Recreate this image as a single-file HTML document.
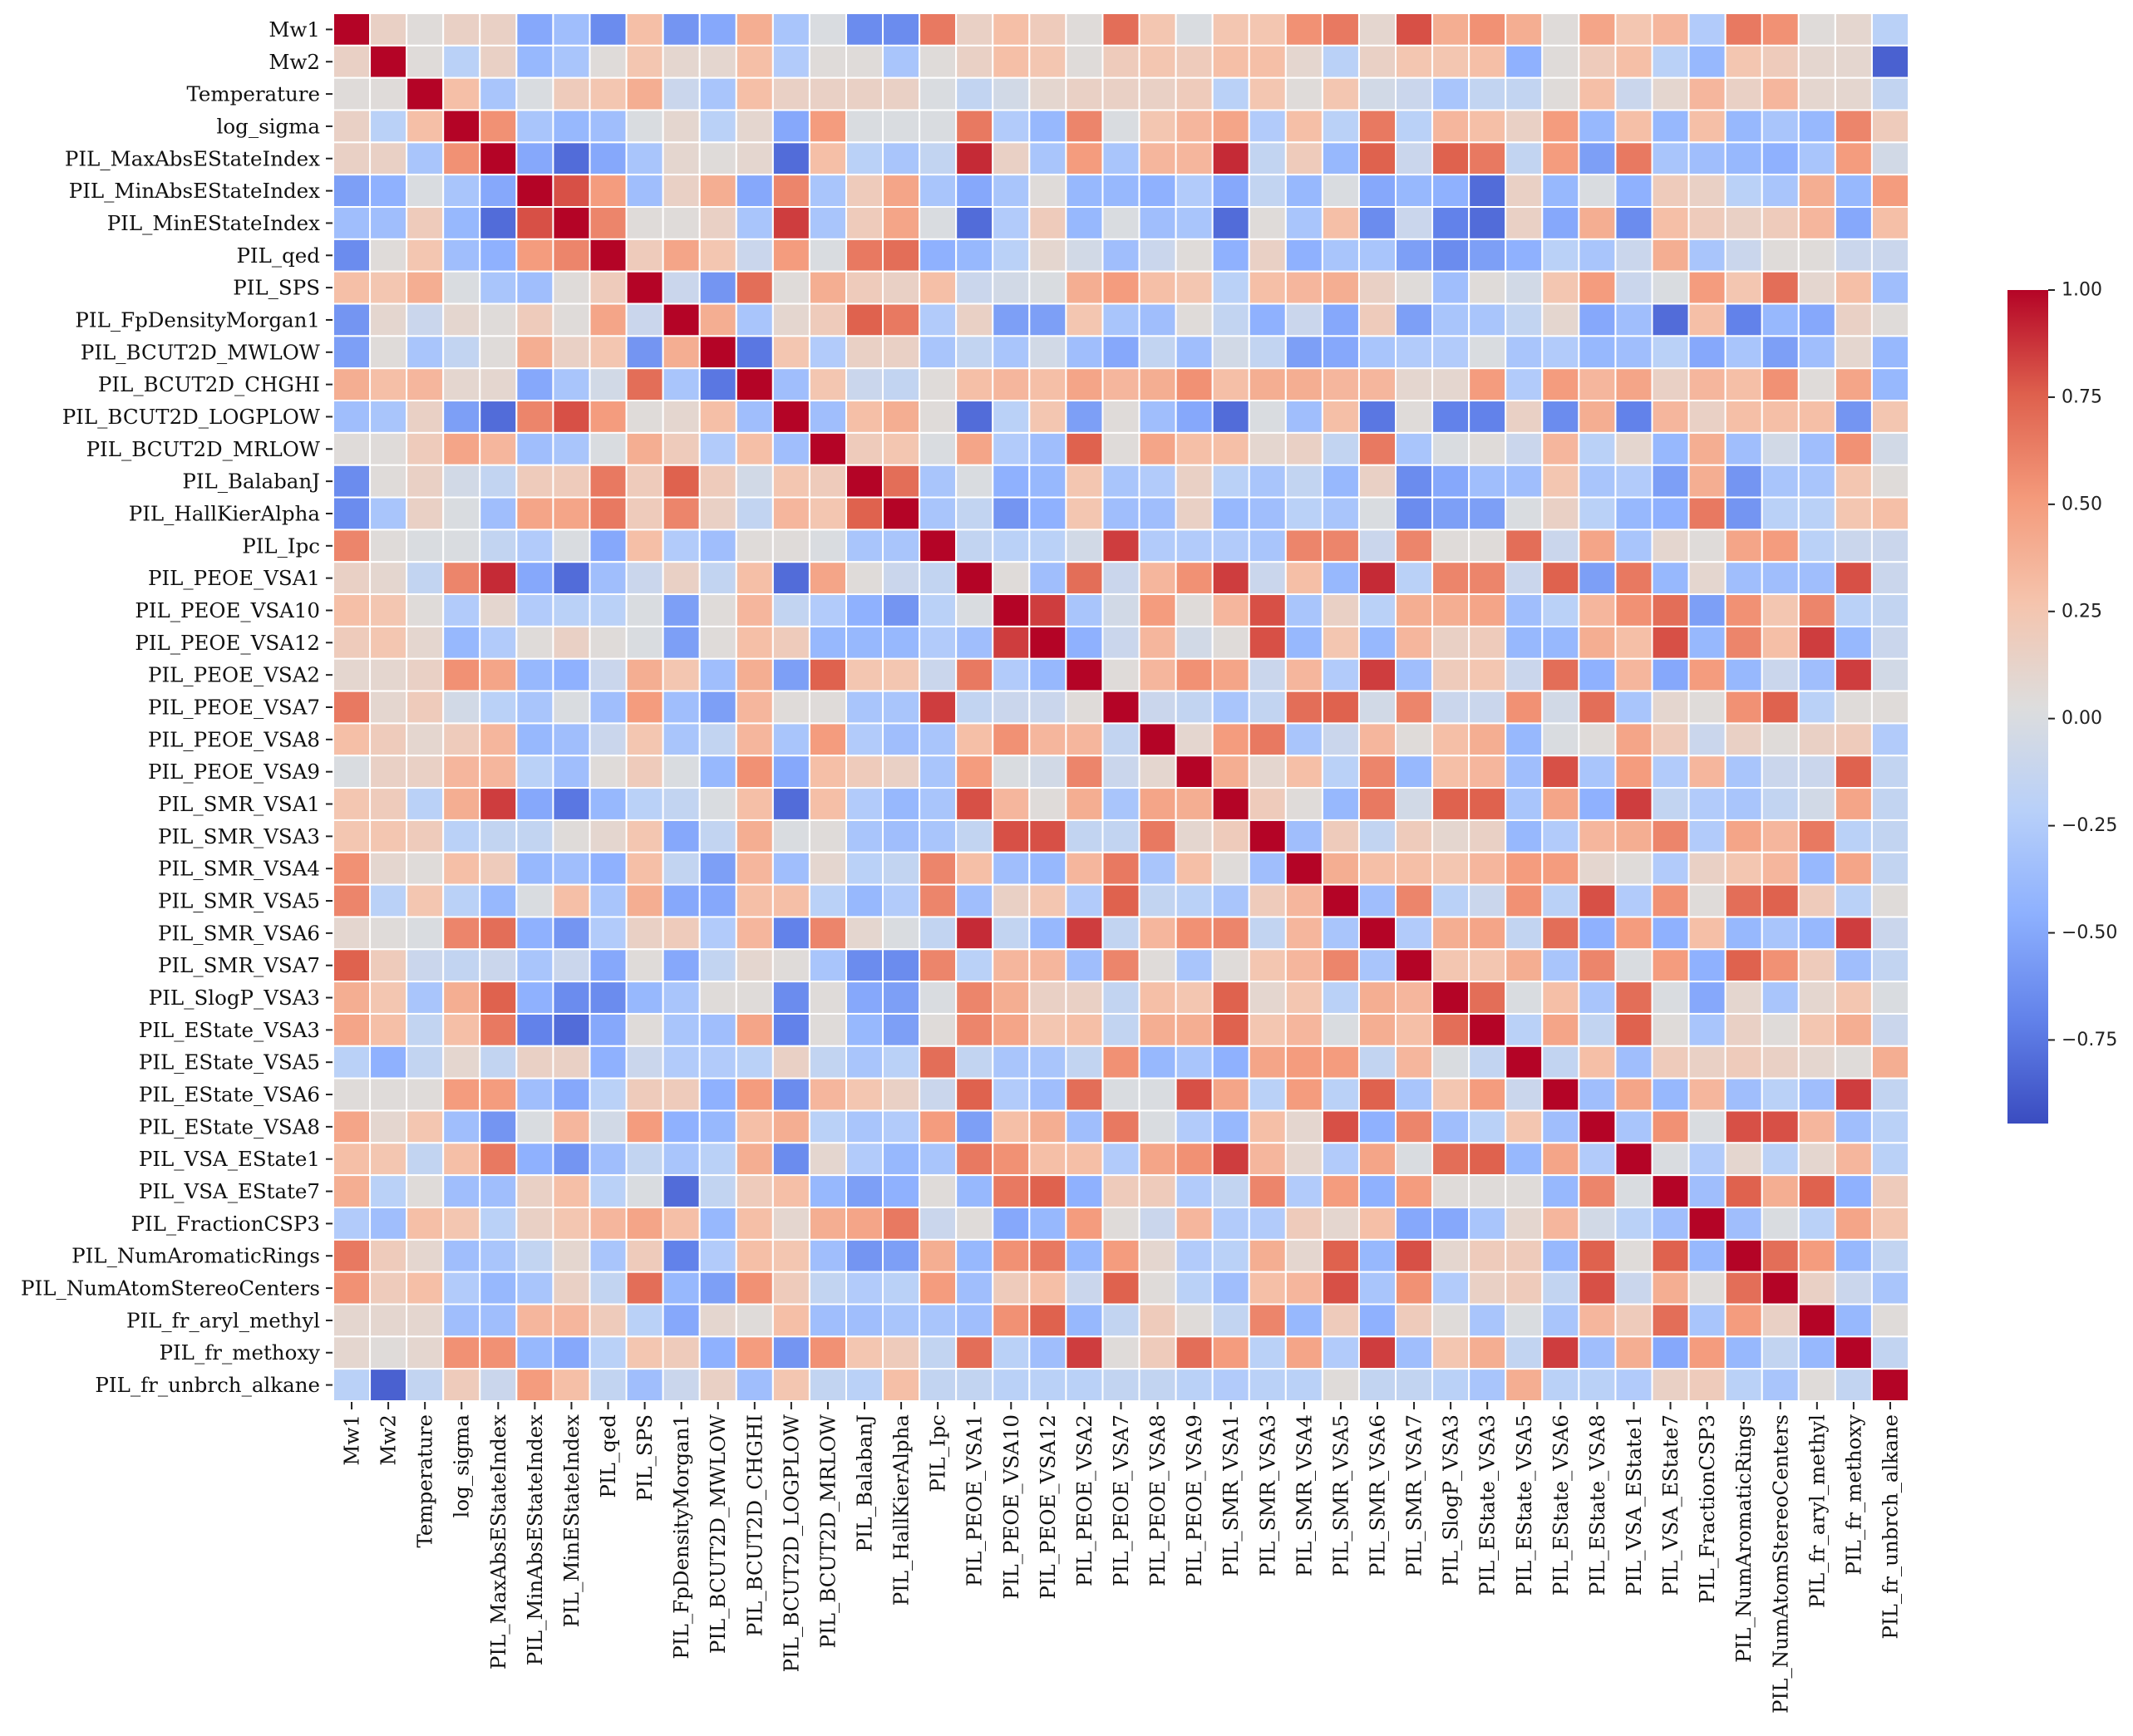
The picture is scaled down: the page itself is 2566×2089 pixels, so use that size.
<!DOCTYPE html>
<html><head><meta charset="utf-8">
<style>
html,body{margin:0;padding:0;background:#fff;}
svg{display:block;}
.lbl{font-family:"DejaVu Serif","Liberation Serif",serif;font-size:24.5px;fill:#111;}
.cbl{font-family:"DejaVu Sans","Liberation Sans",sans-serif;font-size:22px;fill:#222;}
</style></head>
<body>
<svg id="chart" width="2566" height="2089" viewBox="0 0 2566 2089" xmlns="http://www.w3.org/2000/svg">
<defs>
<linearGradient id="cbgrad" x1="0" y1="1" x2="0" y2="0">
<stop offset="0" stop-color="rgb(58,76,192)"/>
<stop offset="0.125" stop-color="rgb(98,130,234)"/>
<stop offset="0.25" stop-color="rgb(141,176,254)"/>
<stop offset="0.375" stop-color="rgb(184,208,249)"/>
<stop offset="0.5" stop-color="rgb(221,221,221)"/>
<stop offset="0.625" stop-color="rgb(245,196,173)"/>
<stop offset="0.75" stop-color="rgb(244,154,123)"/>
<stop offset="0.875" stop-color="rgb(222,96,77)"/>
<stop offset="1" stop-color="rgb(180,4,38)"/>
</linearGradient>
</defs>
<g id="cells"></g>
<g id="ylabels"></g>
<g id="xlabels"></g>
<g id="colorbar"></g>
</svg>
<script>
const variables = ["Mw1","Mw2","Temperature","log_sigma","PIL_MaxAbsEStateIndex","PIL_MinAbsEStateIndex","PIL_MinEStateIndex","PIL_qed","PIL_SPS","PIL_FpDensityMorgan1","PIL_BCUT2D_MWLOW","PIL_BCUT2D_CHGHI","PIL_BCUT2D_LOGPLOW","PIL_BCUT2D_MRLOW","PIL_BalabanJ","PIL_HallKierAlpha","PIL_Ipc","PIL_PEOE_VSA1","PIL_PEOE_VSA10","PIL_PEOE_VSA12","PIL_PEOE_VSA2","PIL_PEOE_VSA7","PIL_PEOE_VSA8","PIL_PEOE_VSA9","PIL_SMR_VSA1","PIL_SMR_VSA3","PIL_SMR_VSA4","PIL_SMR_VSA5","PIL_SMR_VSA6","PIL_SMR_VSA7","PIL_SlogP_VSA3","PIL_EState_VSA3","PIL_EState_VSA5","PIL_EState_VSA6","PIL_EState_VSA8","PIL_VSA_EState1","PIL_VSA_EState7","PIL_FractionCSP3","PIL_NumAromaticRings","PIL_NumAtomStereoCenters","PIL_fr_aryl_methyl","PIL_fr_methoxy","PIL_fr_unbrch_alkane"];
const colorbarTicks = [1.00,0.75,0.50,0.25,0.00,-0.25,-0.50,-0.75];
const colorbarTickLabels = ["1.00","0.75","0.50","0.25","0.00","\u22120.25","\u22120.50","\u22120.75"];
const valueMin = -0.945;
const valueMax = 1.0;
const corrRows = [
"1 0.15 0.05 0.15 0.15 -0.5 -0.35 -0.65 0.3 -0.6 -0.5 0.4 -0.3 0 -0.65 -0.65 0.65 0.15 0.3 0.2 0.05 0.7 0.25 0 0.25 0.25 0.55 0.65 0.1 0.8 0.4 0.55 0.4 0.05 0.45 0.25 0.35 -0.25 0.65 0.55 0.05 0.1 -0.2",
"0.15 1 0.05 -0.2 0.15 -0.4 -0.3 0.05 0.25 0.1 0.1 0.3 -0.25 0.05 0.05 -0.3 0.05 0.15 0.3 0.25 0.05 0.2 0.25 0.2 0.3 0.3 0.1 -0.2 0.15 0.25 0.25 0.3 -0.45 0.05 0.2 0.3 -0.2 -0.4 0.25 0.2 0.1 0.1 -0.85",
"0.05 0.05 1 0.3 -0.3 0 0.2 0.25 0.4 -0.1 -0.3 0.3 0.15 0.15 0.15 0.15 0 -0.15 -0.05 0.1 0.15 0.15 0.15 0.2 -0.2 0.25 0.05 0.25 -0.05 -0.1 -0.3 -0.15 -0.15 0.05 0.3 -0.1 0.1 0.35 0.15 0.35 0.1 0.1 -0.15",
"0.15 -0.2 0.3 1 0.55 -0.3 -0.4 -0.35 0 0.1 -0.2 0.1 -0.5 0.5 0 0 0 0.65 -0.25 -0.4 0.6 0 0.25 0.35 0.45 -0.25 0.3 -0.2 0.65 -0.2 0.35 0.3 0.15 0.5 -0.4 0.3 -0.4 0.3 -0.4 -0.3 -0.4 0.6 0.2",
"0.15 0.15 -0.3 0.55 1 -0.5 -0.8 -0.5 -0.3 0.1 0.05 0.1 -0.8 0.3 -0.2 -0.3 -0.15 0.9 0.15 -0.3 0.5 -0.3 0.35 0.35 0.9 -0.15 0.2 -0.4 0.75 -0.1 0.75 0.65 -0.15 0.5 -0.55 0.65 -0.3 -0.35 -0.4 -0.45 -0.3 0.5 -0.05",
"-0.55 -0.45 0 -0.3 -0.5 1 0.8 0.5 -0.35 0.15 0.4 -0.5 0.6 -0.3 0.2 0.45 -0.3 -0.5 -0.3 0.05 -0.4 -0.4 -0.45 -0.25 -0.5 -0.15 -0.4 0 -0.5 -0.4 -0.45 -0.8 0.15 -0.4 0 -0.45 0.2 0.15 -0.2 -0.3 0.4 -0.4 0.5",
"-0.35 -0.35 0.2 -0.4 -0.8 0.8 1 0.6 0.05 0.05 0.15 -0.3 0.85 -0.3 0.2 0.45 0 -0.8 -0.25 0.2 -0.4 0 -0.35 -0.3 -0.8 0.05 -0.3 0.3 -0.65 -0.1 -0.7 -0.8 0.15 -0.5 0.4 -0.65 0.3 0.2 0.15 0.2 0.35 -0.5 0.3",
"-0.65 0.05 0.25 -0.35 -0.45 0.5 0.6 1 0.2 0.45 0.25 -0.1 0.5 0 0.65 0.7 -0.45 -0.4 -0.2 0.1 -0.05 -0.35 -0.1 0.05 -0.45 0.15 -0.45 -0.3 -0.3 -0.55 -0.65 -0.55 -0.45 -0.2 -0.3 -0.1 0.4 -0.3 -0.1 0.05 0.05 -0.1 -0.1",
"0.3 0.25 0.4 0 -0.3 -0.35 0.05 0.2 1 -0.1 -0.6 0.7 0.05 0.4 0.2 0.15 0.3 -0.1 -0.05 0 0.4 0.5 0.3 0.25 -0.2 0.3 0.35 0.4 0.15 0.05 -0.35 0.05 -0.05 0.25 0.5 -0.1 0 0.5 0.25 0.7 0.1 0.3 -0.35",
"-0.6 0.1 -0.1 0.1 0.05 0.2 0.05 0.45 -0.1 1 0.4 -0.3 0.1 0.2 0.75 0.65 -0.25 0.15 -0.55 -0.55 0.25 -0.3 -0.35 0.05 -0.15 -0.45 -0.1 -0.5 0.2 -0.55 -0.3 -0.3 -0.15 0.1 -0.5 -0.35 -0.8 0.3 -0.7 -0.4 -0.5 0.15 0.05",
"-0.55 0.05 -0.3 -0.15 0.05 0.4 0.15 0.25 -0.6 0.4 1 -0.75 0.25 -0.25 0.15 0.15 -0.3 -0.15 -0.3 -0.05 -0.35 -0.5 -0.15 -0.35 -0.05 -0.15 -0.55 -0.5 -0.3 -0.25 -0.25 0 -0.3 -0.25 -0.4 -0.35 -0.2 -0.5 -0.3 -0.55 -0.35 0.1 -0.4",
"0.4 0.3 0.35 0.1 0.1 -0.5 -0.3 -0.05 0.7 -0.3 -0.75 1 -0.35 0.25 -0.1 -0.15 0.05 0.3 0.35 0.3 0.45 0.35 0.4 0.55 0.3 0.4 0.4 0.35 0.35 0.1 0.1 0.5 -0.25 0.5 0.35 0.45 0.15 0.35 0.3 0.55 0.05 0.45 -0.4",
"-0.35 -0.3 0.15 -0.55 -0.8 0.6 0.8 0.5 0.05 0.1 0.3 -0.35 1 -0.35 0.3 0.4 0.05 -0.8 -0.2 0.25 -0.55 0.05 -0.35 -0.5 -0.8 0 -0.35 0.3 -0.75 0.05 -0.7 -0.7 0.15 -0.65 0.4 -0.7 0.35 0.15 0.3 0.3 0.3 -0.6 0.25",
"0.05 0.05 0.2 0.45 0.35 -0.35 -0.3 0 0.4 0.2 -0.25 0.3 -0.35 1 0.2 0.25 0 0.45 -0.25 -0.35 0.75 0.05 0.45 0.3 0.3 0.1 0.15 -0.15 0.65 -0.3 0 0.05 -0.1 0.35 -0.2 0.1 -0.4 0.4 -0.35 -0.05 -0.35 0.55 -0.05",
"-0.65 0.05 0.15 -0.05 -0.15 0.2 0.2 0.65 0.2 0.75 0.2 -0.05 0.25 0.2 1 0.7 -0.3 0 -0.45 -0.4 0.25 -0.3 -0.25 0.15 -0.2 -0.3 -0.15 -0.4 0.15 -0.65 -0.5 -0.35 -0.35 0.25 -0.3 -0.25 -0.55 0.4 -0.6 -0.3 -0.3 0.25 0.05",
"-0.65 -0.3 0.15 0 -0.35 0.45 0.45 0.65 0.2 0.6 0.15 -0.15 0.35 0.25 0.75 1 -0.3 -0.15 -0.6 -0.45 0.25 -0.35 -0.35 0.15 -0.4 -0.35 -0.2 -0.3 0 -0.65 -0.55 -0.55 0 0.15 -0.2 -0.4 -0.45 0.65 -0.6 -0.2 -0.2 0.25 0.3",
"0.6 0.05 0 0 -0.15 -0.25 0 -0.5 0.3 -0.25 -0.35 0.05 0.05 0 -0.3 -0.3 1 -0.15 -0.2 -0.2 -0.05 0.85 -0.25 -0.25 -0.25 -0.3 0.6 0.6 -0.1 0.6 0.05 0.05 0.7 -0.1 0.45 -0.3 0.1 0.05 0.45 0.5 -0.2 -0.1 -0.1",
"0.15 0.1 -0.15 0.6 0.9 -0.5 -0.8 -0.35 -0.1 0.15 -0.15 0.3 -0.8 0.45 0.05 -0.1 -0.15 1 0.05 -0.35 0.7 -0.1 0.35 0.55 0.85 -0.1 0.3 -0.4 0.9 -0.2 0.6 0.6 -0.1 0.75 -0.55 0.65 -0.4 0.1 -0.35 -0.35 -0.35 0.8 -0.1",
"0.3 0.25 0.05 -0.25 0.1 -0.25 -0.2 -0.2 0 -0.55 0.05 0.35 -0.15 -0.25 -0.45 -0.6 -0.2 0 1 0.85 -0.3 -0.05 0.5 0.05 0.35 0.8 -0.3 0.15 -0.2 0.4 0.4 0.45 -0.35 -0.2 0.35 0.55 0.7 -0.55 0.55 0.25 0.6 -0.2 -0.15",
"0.2 0.25 0.1 -0.4 -0.25 0.05 0.15 0.05 0 -0.55 0.05 0.3 0.2 -0.4 -0.4 -0.4 -0.25 -0.35 0.85 1 -0.45 -0.1 0.35 -0.05 0.05 0.8 -0.4 0.25 -0.4 0.35 0.15 0.2 -0.4 -0.4 0.4 0.3 0.8 -0.4 0.6 0.3 0.85 -0.4 -0.1",
"0.1 0.1 0.15 0.55 0.45 -0.4 -0.45 -0.1 0.4 0.25 -0.35 0.4 -0.55 0.75 0.25 0.25 -0.1 0.65 -0.25 -0.4 1 0.05 0.35 0.55 0.45 -0.1 0.35 -0.25 0.85 -0.35 0.2 0.25 -0.1 0.7 -0.45 0.35 -0.5 0.5 -0.4 -0.1 -0.35 0.85 -0.05",
"0.65 0.1 0.2 -0.05 -0.2 -0.3 0 -0.35 0.5 -0.35 -0.55 0.35 0.05 0.05 -0.3 -0.3 0.85 -0.15 -0.1 -0.1 0.05 1 -0.1 -0.15 -0.3 -0.15 0.7 0.75 -0.05 0.6 -0.1 -0.1 0.55 -0.05 0.7 -0.3 0.1 0.05 0.55 0.75 -0.2 0.05 0.05",
"0.3 0.2 0.1 0.2 0.35 -0.4 -0.35 -0.1 0.25 -0.3 -0.15 0.35 -0.3 0.5 -0.25 -0.35 -0.3 0.3 0.55 0.35 0.35 -0.15 1 0.1 0.5 0.65 -0.3 -0.1 0.35 0.05 0.3 0.4 -0.4 0 0.05 0.45 0.2 -0.1 0.15 0.05 0.15 0.2 -0.25",
"0 0.15 0.15 0.35 0.35 -0.2 -0.35 0.05 0.2 0 -0.4 0.55 -0.5 0.3 0.2 0.15 -0.3 0.5 0 -0.05 0.6 -0.1 0.1 1 0.4 0.1 0.3 -0.2 0.6 -0.4 0.3 0.35 -0.35 0.8 -0.3 0.5 -0.25 0.35 -0.3 -0.1 -0.1 0.75 -0.15",
"0.25 0.2 -0.2 0.4 0.85 -0.5 -0.75 -0.4 -0.2 -0.15 0 0.3 -0.8 0.3 -0.25 -0.4 -0.3 0.8 0.35 0.05 0.4 -0.3 0.45 0.4 1 0.2 0.05 -0.4 0.65 -0.05 0.75 0.75 -0.3 0.45 -0.45 0.85 -0.15 -0.25 -0.3 -0.15 -0.05 0.45 -0.15",
"0.25 0.25 0.2 -0.2 -0.15 -0.15 0.05 0.1 0.25 -0.5 -0.15 0.4 0 0.05 -0.3 -0.35 -0.3 -0.15 0.8 0.8 -0.15 -0.15 0.65 0.1 0.2 1 -0.35 0.2 -0.15 0.2 0.1 0.15 -0.4 -0.25 0.35 0.4 0.6 -0.25 0.45 0.35 0.65 -0.2 -0.15",
"0.55 0.1 0.05 0.3 0.2 -0.4 -0.35 -0.45 0.3 -0.15 -0.55 0.35 -0.35 0.1 -0.2 -0.15 0.6 0.3 -0.35 -0.4 0.35 0.65 -0.3 0.3 0.05 -0.35 1 0.4 0.3 0.3 0.25 0.35 0.5 0.5 0.1 0.05 -0.25 0.15 0.25 0.35 -0.4 0.45 -0.15",
"0.6 -0.2 0.25 -0.2 -0.4 0 0.3 -0.3 0.4 -0.5 -0.5 0.3 0.3 -0.2 -0.4 -0.25 0.6 -0.35 0.15 0.25 -0.25 0.75 -0.15 -0.2 -0.3 0.2 0.35 1 -0.35 0.6 -0.2 -0.1 0.55 -0.2 0.8 -0.25 0.55 0.05 0.7 0.75 0.2 -0.2 0.05",
"0.1 0.05 0 0.6 0.7 -0.45 -0.6 -0.25 0.15 0.2 -0.25 0.35 -0.7 0.6 0.1 0 -0.15 0.9 -0.15 -0.4 0.85 -0.15 0.35 0.55 0.6 -0.15 0.35 -0.3 1 -0.25 0.4 0.45 -0.15 0.7 -0.45 0.5 -0.45 0.3 -0.4 -0.3 -0.4 0.85 -0.1",
"0.75 0.2 -0.1 -0.15 -0.1 -0.3 -0.1 -0.5 0.05 -0.5 -0.15 0.1 0.05 -0.3 -0.65 -0.65 0.6 -0.2 0.35 0.35 -0.35 0.6 0.05 -0.3 0.05 0.25 0.35 0.6 -0.3 1 0.25 0.25 0.4 -0.3 0.6 0 0.5 -0.45 0.75 0.55 0.2 -0.35 -0.15",
"0.4 0.25 -0.3 0.4 0.75 -0.45 -0.65 -0.65 -0.4 -0.3 0.05 0.05 -0.65 0.05 -0.5 -0.55 0 0.6 0.4 0.15 0.15 -0.15 0.3 0.25 0.75 0.1 0.25 -0.2 0.4 0.35 1 0.7 0 0.3 -0.3 0.7 0 -0.5 0.1 -0.3 0.1 0.25 0",
"0.45 0.3 -0.15 0.3 0.65 -0.7 -0.8 -0.5 0.05 -0.3 -0.35 0.45 -0.7 0.05 -0.4 -0.55 0.05 0.6 0.45 0.25 0.3 -0.15 0.4 0.4 0.75 0.25 0.35 0 0.4 0.3 0.7 1 -0.2 0.45 -0.15 0.75 0.05 -0.3 0.15 0.05 0.25 0.4 -0.1",
"-0.2 -0.45 -0.15 0.1 -0.15 0.15 0.15 -0.45 -0.1 -0.25 -0.25 -0.2 0.15 -0.15 -0.3 -0.2 0.7 -0.15 -0.3 -0.3 -0.15 0.55 -0.4 -0.3 -0.45 0.45 0.5 0.5 -0.15 0.35 0 -0.15 1 -0.15 0.3 -0.35 0.2 0.15 0.2 0.15 0.1 0.05 0.4",
"0.05 0.05 0.05 0.5 0.5 -0.35 -0.5 -0.2 0.2 0.2 -0.45 0.5 -0.65 0.35 0.25 0.15 -0.1 0.75 -0.25 -0.35 0.7 0 0 0.8 0.45 -0.2 0.5 -0.2 0.75 -0.3 0.25 0.5 -0.1 1 -0.35 0.45 -0.4 0.35 -0.35 -0.2 -0.35 0.85 -0.15",
"0.45 0.1 0.25 -0.35 -0.6 0 0.35 -0.05 0.5 -0.45 -0.4 0.3 0.4 -0.2 -0.3 -0.25 0.5 -0.55 0.3 0.4 -0.35 0.65 0 -0.25 -0.4 0.3 0.1 0.8 -0.45 0.6 -0.35 -0.2 0.25 -0.35 1 -0.3 0.55 0 0.8 0.8 0.35 -0.35 -0.2",
"0.3 0.25 -0.15 0.3 0.65 -0.45 -0.6 -0.35 -0.15 -0.3 -0.2 0.4 -0.65 0.1 -0.25 -0.4 -0.3 0.65 0.55 0.3 0.3 -0.25 0.45 0.55 0.85 0.35 0.1 -0.25 0.45 0 0.7 0.75 -0.4 0.45 -0.25 1 0 -0.25 0.1 -0.2 0.1 0.35 -0.2",
"0.4 -0.2 0.05 -0.35 -0.35 0.15 0.3 -0.2 0 -0.8 -0.15 0.2 0.3 -0.4 -0.55 -0.45 0.05 -0.4 0.65 0.75 -0.45 0.2 0.2 -0.25 -0.15 0.6 -0.25 0.5 -0.45 0.5 0.05 0.05 0.05 -0.4 0.6 0 1 -0.35 0.75 0.4 0.75 -0.45 0.2",
"-0.25 -0.35 0.3 0.25 -0.2 0.15 0.25 0.35 0.45 0.3 -0.4 0.3 0.1 0.4 0.45 0.65 -0.1 0.05 -0.5 -0.4 0.5 0.05 -0.1 0.35 -0.25 -0.25 0.2 0.1 0.3 -0.5 -0.5 -0.3 0.1 0.35 -0.05 -0.2 -0.35 1 -0.35 0 -0.2 0.45 0.25",
"0.65 0.2 0.1 -0.35 -0.3 -0.15 0.1 -0.3 0.2 -0.7 -0.25 0.3 0.25 -0.35 -0.6 -0.55 0.4 -0.4 0.55 0.65 -0.4 0.5 0.1 -0.25 -0.2 0.4 0.1 0.75 -0.4 0.8 0.1 0.2 0.2 -0.4 0.75 0.05 0.75 -0.4 1 0.7 0.5 -0.4 -0.15",
"0.55 0.2 0.3 -0.25 -0.4 -0.3 0.15 -0.15 0.7 -0.4 -0.55 0.55 0.2 -0.15 -0.25 -0.2 0.5 -0.35 0.2 0.3 -0.1 0.75 0.05 -0.2 -0.35 0.3 0.35 0.8 -0.3 0.55 -0.25 0.15 0.2 -0.15 0.8 -0.1 0.4 0.05 0.7 1 0.15 -0.1 -0.3",
"0.1 0.1 0.1 -0.35 -0.35 0.35 0.35 0.2 -0.2 -0.5 0.1 0.05 0.3 -0.35 -0.35 -0.3 -0.3 -0.35 0.55 0.75 -0.4 -0.15 0.2 0.05 -0.15 0.6 -0.4 0.2 -0.45 0.2 0.05 -0.3 0 -0.3 0.35 0.2 0.7 -0.3 0.5 0.15 1 -0.4 0.05",
"0.1 0.05 0.1 0.55 0.55 -0.4 -0.5 -0.2 0.25 0.2 -0.45 0.5 -0.6 0.55 0.25 0.2 -0.15 0.7 -0.2 -0.35 0.85 0.05 0.2 0.7 0.5 -0.2 0.45 -0.25 0.85 -0.35 0.25 0.4 -0.15 0.85 -0.35 0.4 -0.5 0.5 -0.4 -0.15 -0.4 1 -0.15",
"-0.2 -0.85 -0.15 0.2 -0.1 0.5 0.3 -0.15 -0.35 -0.1 0.15 -0.35 0.25 -0.15 -0.2 0.3 -0.15 -0.15 -0.2 -0.2 -0.2 -0.15 -0.15 -0.2 -0.25 -0.2 -0.2 0.05 -0.15 -0.15 -0.2 -0.3 0.4 -0.2 -0.2 -0.25 0.15 0.2 -0.2 -0.3 0.05 -0.15 1"
];

const NS = "http://www.w3.org/2000/svg";
const X0 = 401, X1 = 2296, Y0 = 16, Y1 = 1686;
const n = variables.length;
const cw = (X1 - X0) / n, chh = (Y1 - Y0) / n;
const xScale = i => X0 + i * cw;
const yScale = i => Y0 + i * chh;
const CB_X = 2415, CB_W = 49, CB_TOP = 349, CB_BOT = 1352;
const cbScale = v => CB_BOT - (v - valueMin) / (valueMax - valueMin) * (CB_BOT - CB_TOP);

const stops = [[58,76,192],[98,130,234],[141,176,254],[184,208,249],[221,221,221],[245,196,173],[244,154,123],[222,96,77],[180,4,38]];
function cmap(v){
  let t = (v - valueMin) / (valueMax - valueMin);
  t = Math.max(0, Math.min(1, t));
  const p = t * (stops.length - 1);
  const i = Math.min(stops.length - 2, Math.floor(p));
  const f = p - i;
  const a = stops[i], b = stops[i+1];
  return "rgb(" + a.map((c,k) => Math.round(c + (b[k]-c)*f)).join(",") + ")";
}
function mk(tag, attrs, parent){
  const e = document.createElementNS(NS, tag);
  for (const k in attrs) e.setAttribute(k, attrs[k]);
  parent.appendChild(e);
  return e;
}

const cells = document.getElementById("cells");
corrRows.forEach((row, r) => {
  const vals = row.trim().split(/\s+/).map(Number);
  vals.forEach((v, c) => {
    const rect = mk("rect", {x: xScale(c), y: yScale(r), width: cw, height: chh, fill: cmap(v), stroke: "#fff", "stroke-width": 2}, cells);
    
    
  });
});

const yl = document.getElementById("ylabels");
const xl = document.getElementById("xlabels");
variables.forEach((name, i) => {
  const cy = yScale(i) + chh / 2;
  const tk = mk("line", {x1: 392, x2: 400, y1: cy, y2: cy, stroke: "#222", "stroke-width": 2}, yl);
  
  
  const t = mk("text", {x: 385, y: cy, "text-anchor": "end", "dominant-baseline": "central", class: "lbl"}, yl);
  t.textContent = name;
  
  

  const cx = xScale(i) + cw / 2;
  const tk2 = mk("line", {x1: cx, x2: cx, y1: Y1 + 1, y2: Y1 + 10, stroke: "#222", "stroke-width": 2}, xl);
  
  
  const t2 = mk("text", {x: 0, y: 0, "text-anchor": "end", "dominant-baseline": "central", class: "lbl", transform: "translate(" + cx + "," + (Y1 + 16) + ") rotate(-90)"}, xl);
  t2.textContent = name;
  
  
});

const cb = document.getElementById("colorbar");
const bar = mk("rect", {x: CB_X, y: CB_TOP, width: CB_W, height: CB_BOT - CB_TOP, fill: "url(#cbgrad)"}, cb);


colorbarTicks.forEach((v, i) => {
  const y = cbScale(v);
  const tk = mk("line", {x1: CB_X + CB_W, x2: CB_X + CB_W + 8, y1: y, y2: y, stroke: "#222", "stroke-width": 2}, cb);
  
  
  const t = mk("text", {x: CB_X + CB_W + 16, y: y, "dominant-baseline": "central", class: "cbl"}, cb);
  t.textContent = colorbarTickLabels[i];
  
  
});
</script>
</body></html>
